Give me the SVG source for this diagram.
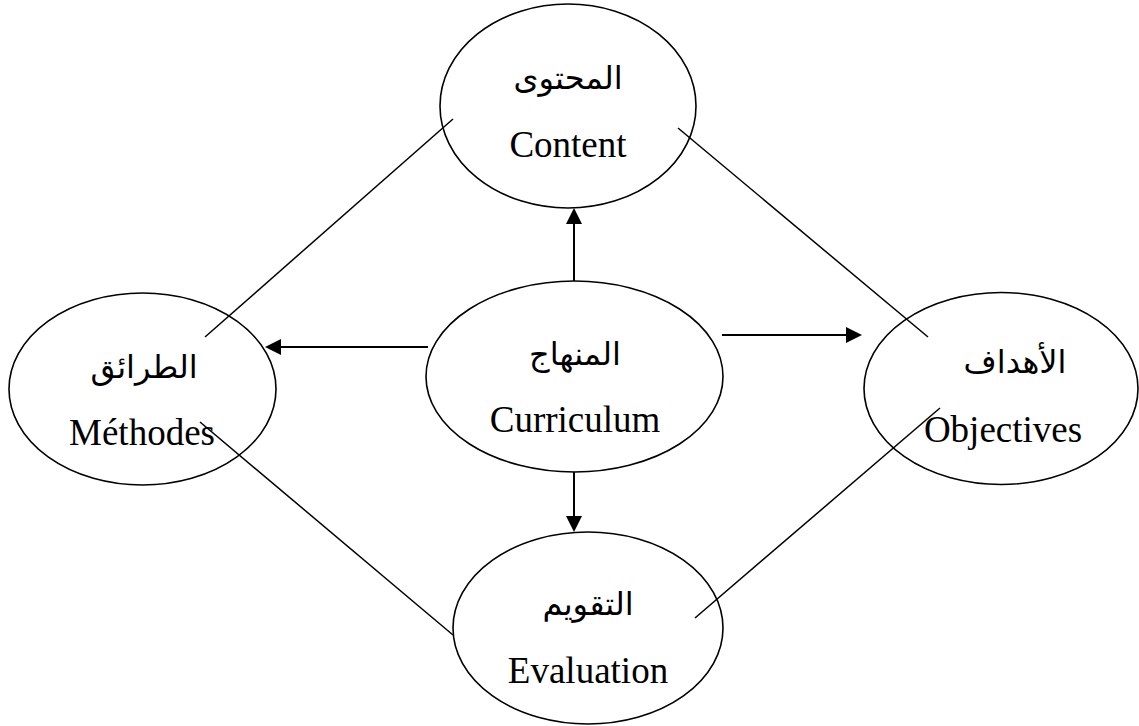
<svg xmlns="http://www.w3.org/2000/svg" width="1139" height="726" viewBox="0 0 1139 726">
<style>
.node{fill:#fff;stroke:#000;stroke-width:1.6}
.lbl{font-family:"Liberation Serif","Times New Roman",serif;font-size:37px;fill:#000;text-anchor:middle}
.ar{font-family:"Liberation Serif","DejaVu Sans","Noto Sans",serif;font-size:32px;fill:#000;text-anchor:middle}
.con{stroke:#000;stroke-width:1.5;fill:none}
.arr{stroke:#000;stroke-width:2;fill:none;marker-end:url(#ah)}
</style>
<defs>
<marker id="ah" viewBox="0 0 16 16" refX="0" refY="8" markerWidth="16" markerHeight="16" markerUnits="userSpaceOnUse" orient="auto">
<path d="M0,0 L16,8 L0,16 z" fill="#000"/>
</marker>
</defs>
<rect width="1139" height="726" fill="#fff"/>
<g id="content">
<ellipse class="node" cx="568" cy="106" rx="128" ry="102"/>
<text class="ar" x="568" y="89" direction="rtl">المحتوى</text>
<text class="lbl" x="568" y="157">Content</text>
</g>
<g id="methodes">
<ellipse class="node" cx="142.5" cy="389" rx="133.5" ry="96"/>
<text class="ar" x="144" y="378" direction="rtl">الطرائق</text>
<text class="lbl" x="142" y="445">Méthodes</text>
</g>
<g id="curriculum">
<ellipse class="node" cx="574.5" cy="376.5" rx="148.5" ry="95.5"/>
<text class="ar" x="575" y="365" direction="rtl">المنهاج</text>
<text class="lbl" x="575" y="432">Curriculum</text>
</g>
<g id="objectives">
<ellipse class="node" cx="1001" cy="388.5" rx="137" ry="96"/>
<text class="ar" x="1015" y="373" direction="rtl">الأهداف</text>
<text class="lbl" x="1003" y="442">Objectives</text>
</g>
<g id="evaluation">
<ellipse class="node" cx="588" cy="628" rx="135" ry="96"/>
<text class="ar" x="588" y="615" direction="rtl">التقويم</text>
<text class="lbl" x="588" y="683">Evaluation</text>
</g>
<g id="connectors">
<line class="arr" x1="574" y1="281" x2="574" y2="224"/>
<line class="arr" x1="574" y1="472" x2="574" y2="516"/>
<line class="arr" x1="428" y1="347" x2="281" y2="347"/>
<line class="arr" x1="722" y1="335" x2="846" y2="335"/>
<line class="con" x1="453" y1="119" x2="205" y2="337"/>
<line class="con" x1="678" y1="128" x2="928" y2="337"/>
<line class="con" x1="200" y1="422" x2="453" y2="635"/>
<line class="con" x1="940" y1="408" x2="695" y2="618"/>
</g>
</svg>
